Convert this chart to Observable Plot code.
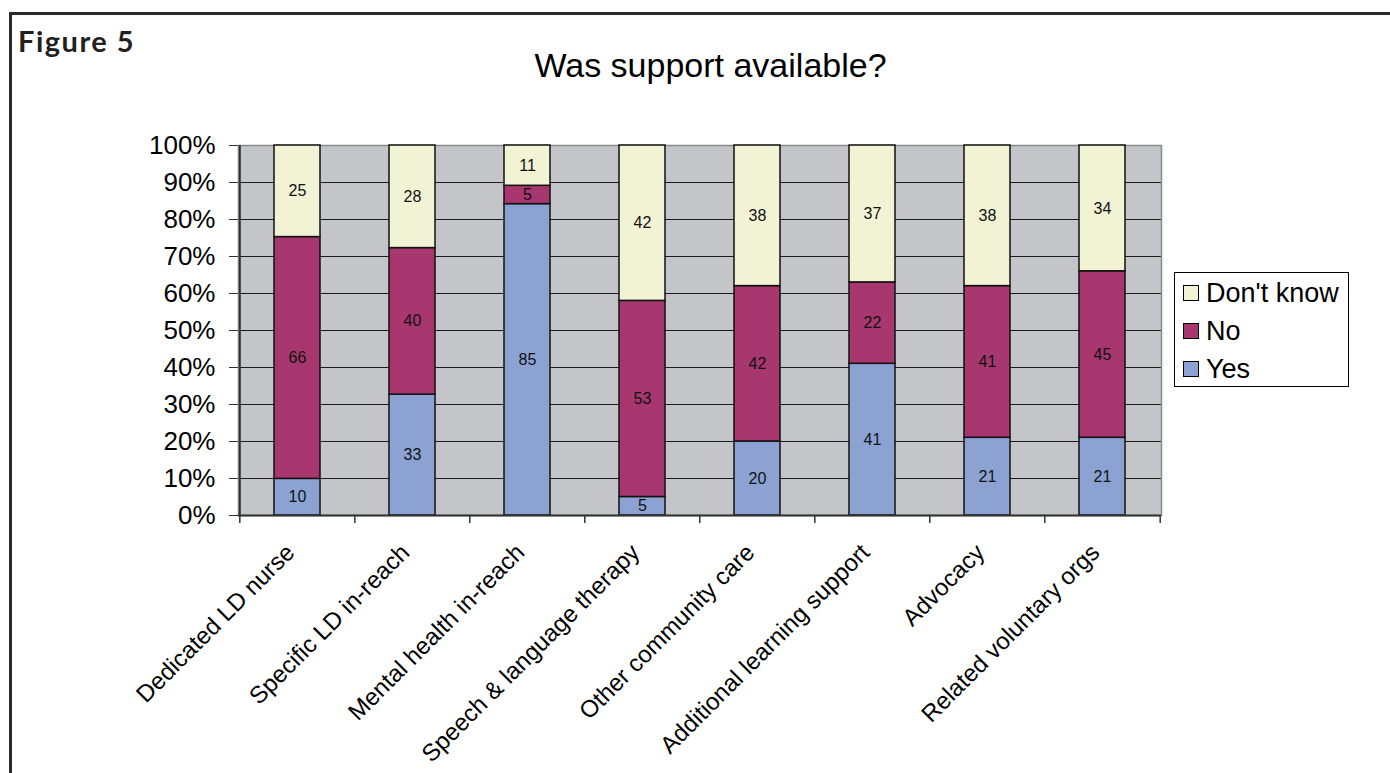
<!DOCTYPE html>
<html>
<head>
<meta charset="utf-8">
<script src="https://cdn.jsdelivr.net/npm/d3@7"></script>
<script src="https://cdn.jsdelivr.net/npm/@observablehq/plot@0.6"></script>
<style>
  body { margin: 0; background: #fff; }
  #wrap { position: relative; width: 1390px; height: 773px; overflow: hidden; font-family: "Liberation Sans", Arial, sans-serif; color: #000; }
  #frame { position: absolute; left: 9px; top: 12px; width: 1420px; height: 820px; border: 3px solid #2b2b2b; }
  #fig { position: absolute; left: 18px; top: 26px; line-height: 29px; font-family: Lato, "Open Sans", sans-serif; font-weight: 700; font-size: 29px; letter-spacing: 1.5px; color: #231f20; white-space: nowrap; }
  #title { position: absolute; left: 0; width: 1421px; top: 48px; line-height: 34px; text-align: center; font-size: 34px; white-space: nowrap; }
  #chart { position: absolute; left: 0; top: 0; }
  #legend { position: absolute; left: 1174px; top: 272px; width: 173px; height: 112px; border: 1px solid #000; background: #fff; padding-top: 1px; }
  .item { display: flex; align-items: center; height: 38px; font-size: 27px; }
  .sw { width: 14px; height: 14px; border: 1px solid #000; margin-left: 8px; margin-right: 7px; }
</style>
</head>
<body>
<div id="wrap">
  <div id="frame"></div>
  <div id="fig">Figure 5</div>
  <div id="title">Was support available?</div>
  <div id="chart"></div>
  <div id="legend"></div>
</div>
<script>
// ---- data ----
const categories = [
  "Dedicated LD nurse",
  "Specific LD in-reach",
  "Mental health in-reach",
  "Speech & language therapy",
  "Other community care",
  "Additional learning support",
  "Advocacy",
  "Related voluntary orgs"
];
const series = ["Yes", "No", "Don't know"];
const yes      = [10, 33, 85,  5, 20, 41, 21, 21];
const no       = [66, 40,  5, 53, 42, 22, 41, 45];
const dontKnow = [25, 28, 11, 42, 38, 37, 38, 34];
const seriesColors = ["#8BA2D3", "#A8376F", "#F2F2D5"];
const legendOrder = ["Don't know", "No", "Yes"];
const yTicks = [0, 0.1, 0.2, 0.3, 0.4, 0.5, 0.6, 0.7, 0.8, 0.9, 1];

// ---- table ----
const valuesBySeries = [yes, no, dontKnow];
const rows = [];
categories.forEach((c, i) => {
  series.forEach((s, j) => rows.push({category: c, series: s, value: valuesBySeries[j][i]}));
});

const W = 1390, H = 773, mL = 238, mR = 229, mT = 145, mB = 258;
const step = (W - mL - mR) / categories.length;

const chart = Plot.plot({
  width: W, height: H,
  marginLeft: mL, marginRight: mR, marginTop: mT, marginBottom: mB,
  style: {fontFamily: "Liberation Sans, Arial, sans-serif", background: "transparent", overflow: "visible", color: "#000"},
  x: {domain: categories, paddingInner: 0.6, paddingOuter: 0.3, label: null},
  y: {domain: [0, 1], label: null},
  color: {domain: series, range: seriesColors},
  marks: [
    Plot.frame({fill: "#C4C5C9"}),
    Plot.gridY(yTicks, {stroke: "#1a1a1a", strokeOpacity: 1, strokeWidth: 1}),
    Plot.frame({stroke: "#8a8a8a", strokeWidth: 1.5}),
    Plot.barY(rows, Plot.stackY({x: "category", y: "value", z: "series", fill: "series", offset: "normalize", stroke: "#111", strokeWidth: 1.5})),
    Plot.text(rows, Plot.stackY({x: "category", y: "value", z: "series", text: "value", offset: "normalize", fontSize: 16, fill: "#111"})),
    Plot.ruleY([0], {stroke: "#333", strokeWidth: 2}),
    Plot.ruleX([categories[0]], {dx: -step / 2, y1: 0, y2: 1, stroke: "#333", strokeWidth: 2}),
    Plot.ruleX(categories, {dx: -step / 2, y1: 0, y2: 0, insetBottom: -8, stroke: "#333", strokeWidth: 1.5}),
    Plot.ruleX([categories[categories.length - 1]], {dx: step / 2, y1: 0, y2: 0, insetBottom: -8, stroke: "#333", strokeWidth: 1.5}),
    Plot.axisY(yTicks, {tickFormat: d3.format(".0%"), tickSize: 9, tickPadding: 14, fontSize: 26, stroke: "#333"}),
    Plot.axisX({tickSize: 0, tickPadding: 33, tickRotate: -45, fontSize: 24, dx: -7})
  ]
});
document.getElementById("chart").appendChild(chart);

// ---- legend ----
const legend = document.getElementById("legend");
legendOrder.forEach(s => {
  const item = document.createElement("div");
  item.className = "item";
  const sw = document.createElement("div");
  sw.className = "sw";
  sw.style.background = seriesColors[series.indexOf(s)];
  const label = document.createElement("span");
  label.textContent = s;
  item.appendChild(sw);
  item.appendChild(label);
  legend.appendChild(item);
});
</script>
</body>
</html>
